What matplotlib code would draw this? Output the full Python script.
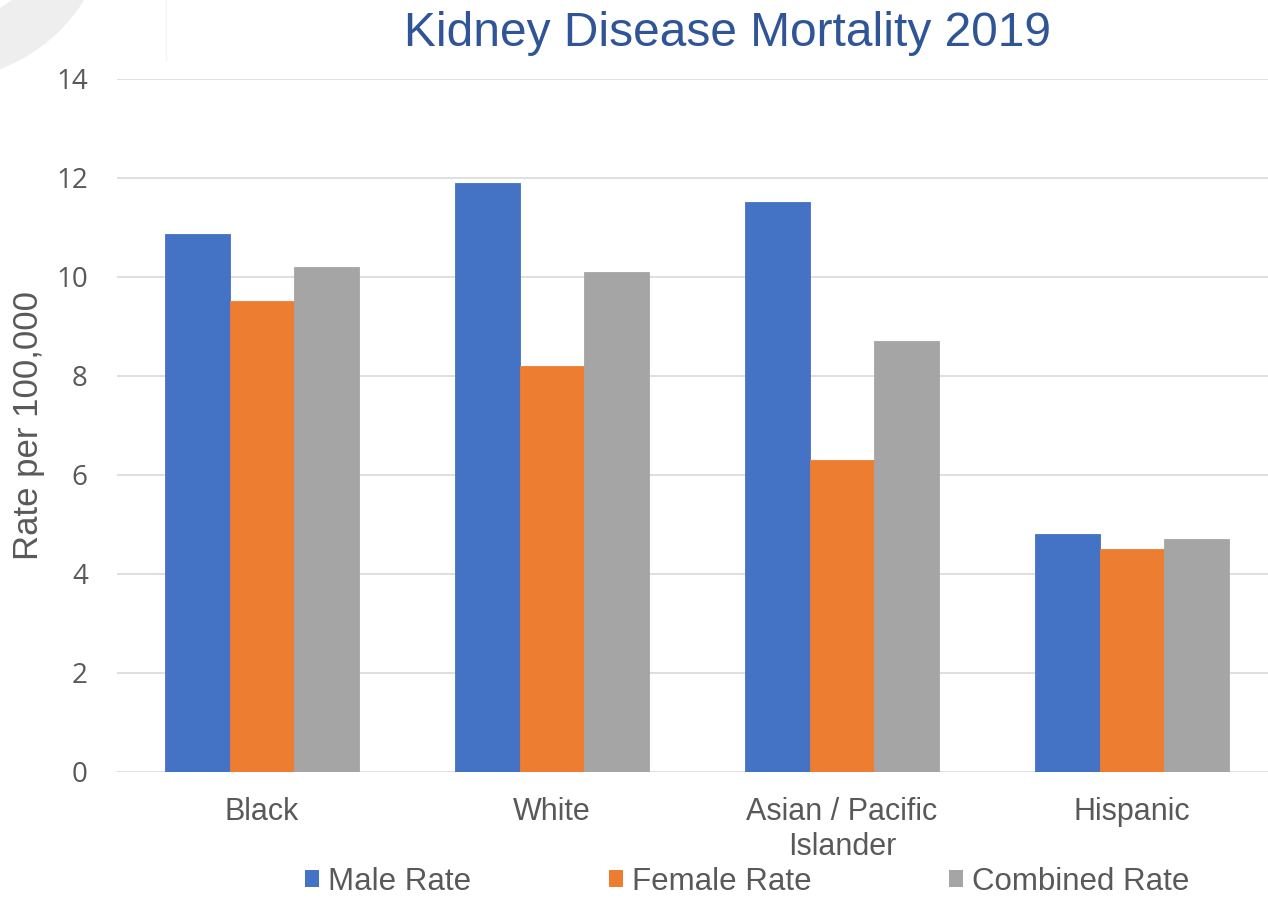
import matplotlib
matplotlib.use("Agg")
import matplotlib.pyplot as plt
import numpy as np
from matplotlib.patches import Patch, Wedge
from matplotlib.lines import Line2D

categories = ["Black", "White", "Asian / Pacific\nIslander", "Hispanic"]
series_names = ["Male Rate", "Female Rate", "Combined Rate"]
male_rate = [10.86, 11.9, 11.5, 4.8]
female_rate = [9.5, 8.2, 6.3, 4.5]
combined_rate = [10.2, 10.1, 8.7, 4.7]
colors = ["#4472C4", "#ED7D31", "#A5A5A5"]
yticks = [0, 2, 4, 6, 8, 10, 12, 14]

W, H = 1268, 900
fig = plt.figure(figsize=(W / 100, H / 100), dpi=100)

# faint background decoration (top-left)
deco = fig.add_axes([0, 0, 1, 1], zorder=-5)
deco.set_xlim(0, W)
deco.set_ylim(H, 0)
deco.axis("off")
deco.add_patch(Wedge((-60, -90), 170, 0, 360, width=55, facecolor="#EEEEEE", edgecolor="none"))
deco.add_line(Line2D([166, 166], [0, 60], color="#F4F4F4", lw=1))

left = 117 / W
bottom = 1 - 772 / H
top = 1 - 78.5 / H
ax = fig.add_axes([left, bottom, 1 - left, top - bottom])

x = np.arange(len(categories))
w = 64.5 / 290
data = [male_rate, female_rate, combined_rate]
for i, (vals, c, name) in enumerate(zip(data, colors, series_names)):
    ax.bar(x + (i - 1) * w, vals, width=w, color=c, label=name, zorder=3,
           edgecolor=c, linewidth=0.6)

ax.set_ylim(0, 14)
ax.set_xlim(-0.5, (W - 117) / 290 - 0.5)
ax.set_yticks(yticks)
ax.set_yticklabels([str(t) for t in yticks], fontfamily="Open Sans", fontsize=20, color="#595959")
ax.set_xticks(x)
ax.set_xticklabels(categories, fontfamily="Liberation Sans", fontsize=22, color="#595959",
                   linespacing=1.2)
ax.tick_params(axis="y", length=0, pad=21)
ax.tick_params(axis="x", length=0, pad=18)
ax.grid(axis="y", color="#D9D9D9", linewidth=1.2, zorder=0)
for s in ax.spines.values():
    s.set_visible(False)
ax.set_axisbelow(True)

fig.text(29 / W, 1 - 426 / H, "Rate per 100,000", rotation=90, ha="center", va="center",
         fontfamily="Liberation Sans", fontsize=25, color="#595959")

fig.text(727 / W, 1 - 34 / H, "Kidney Disease Mortality 2019", ha="center", va="center",
         fontfamily="Liberation Sans", fontsize=34.5, color="#2F5597")

handles = [Patch(facecolor=c, edgecolor="none") for c in colors]
leg = fig.legend(handles, series_names, loc="center", bbox_to_anchor=(747 / W, 1 - 882 / H),
                 ncol=3, frameon=False, prop={"family": "Liberation Sans", "size": 22.5},
                 handlelength=0.45, handleheight=0.45, handletextpad=0.29,
                 columnspacing=4.4, borderpad=0, borderaxespad=0)
for t in leg.get_texts():
    t.set_color("#595959")

fig.savefig("out.png", dpi=100)
